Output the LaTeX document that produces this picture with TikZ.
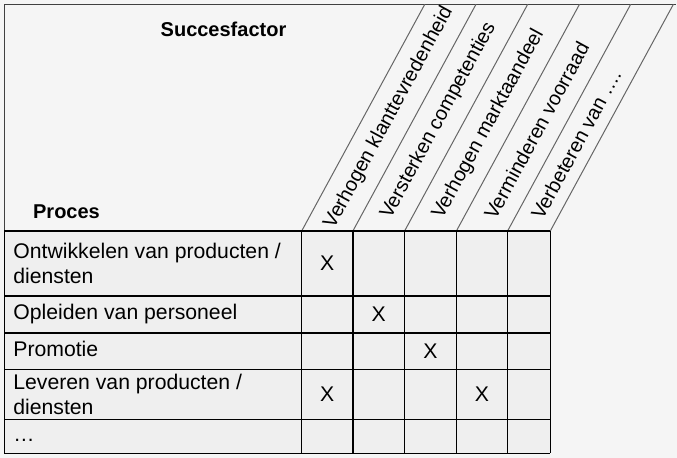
\documentclass[tikz,border=0pt]{standalone}
\usepackage{fontspec}
\setmainfont{Liberation Sans}
\definecolor{bgcol}{HTML}{F5F5F5}
\definecolor{cellcol}{HTML}{EFEFEF}
\tikzset{
  frameline/.style={draw=black!75, line width=0.5pt},
  slantline/.style={draw=black!60, line width=0.5pt},
  gridline/.style={draw=black, line width=0.65pt},
  headtxt/.style={font=\bfseries\fontsize{10}{12}\selectfont, inner sep=0pt},
  factortxt/.style={font=\fontsize{10}{12}\selectfont, rotate=61.5, anchor=west, inner sep=0pt},
  procestxt/.style={font=\fontsize{10.6}{12.5}\selectfont, anchor=west, align=left, inner sep=0pt},
  crosstxt/.style={font=\fontsize{10.6}{12.5}\selectfont, inner sep=0pt}
}
\begin{document}
\begin{tikzpicture}[x=0.5pt,y=-0.5pt]
\useasboundingbox[fill=bgcol] (0,0) rectangle (677,458);
\fill[cellcol] (4.3,231) rectangle (550.3,453.3);
%frame and slanted heads
\draw[frameline] (4.3,453.3)--(4.3,4.3)--(676,4.3);
\foreach \x in {301.7,352.9,404.6,456.4,507.6,550.3}
  \draw[slantline] (\x,231)--++(123.1,-226.7);
%grid
\foreach \x in {4.3,301.7,352.9,404.6,456.4,507.6,550.3}
  \draw[gridline] (\x,231)--(\x,453.3);
\foreach \y in {231,296,333,369.5,419.7,453.3}
  \draw[gridline] (4.3,\y)--(550.3,\y);
\node[headtxt] (succes) at (223.5,29) {Succesfactor};
\node[headtxt] (proces) at (66.5,212) {Proces};
\foreach \x/\d/\t [count=\i] in {327.3/4/Verhogen klanttevredenheid,
    378.75/15/Versterken competenties, 430.5/15/Verhogen marktaandeel,
    482/15/Verminderen voorraad, 528.95/15/Verbeteren van ….}
  \path (\x,231) ++(-61.5:\d) node[factortxt] (factor\i) {\t};
\node[procestxt] (ontw) at (13,263.5) {Ontwikkelen van producten /\\diensten};
\node[procestxt] (opl) at (13,314.5) {\strut Opleiden van personeel};
\node[procestxt] (promo) at (13,351.25) {\strut Promotie};
\node[procestxt] (lev) at (13,394.6) {Leveren van producten /\\diensten};
\node[procestxt] (rest) at (13,436.5) {\strut …};
%crosses
\node[crosstxt] (x1) at (327.3,263.5) {X};
\node[crosstxt] (x2) at (378.75,314.5) {X};
\node[crosstxt] (x3) at (430.5,351.25) {X};
\node[crosstxt] (x4) at (327.3,394.6) {X};
\node[crosstxt] (x5) at (482,394.6) {X};
\end{tikzpicture}
\end{document}
